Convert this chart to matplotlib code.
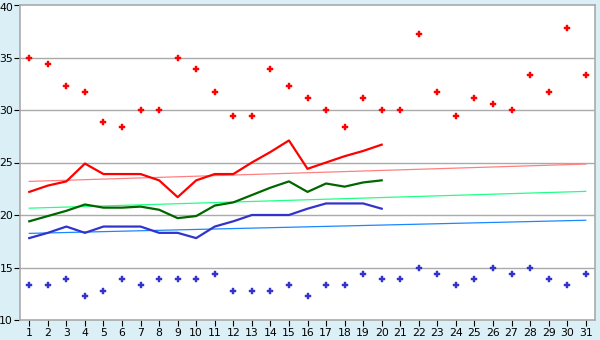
import numpy as np
import matplotlib
matplotlib.use("Agg")
import matplotlib.pyplot as plt
import matplotlib.transforms as mtransforms

days = list(range(1, 32))
max_temp = [35.0, 34.4, 32.3, 31.7, 28.9, 28.4, 30.0, 30.0, 35.0, 33.9,
            31.7, 29.4, 29.4, 33.9, 32.3, 31.1, 30.0, 28.4, 31.1, 30.0,
            30.0, 37.2, 31.7, 29.4, 31.1, 30.6, 30.0, 33.3, 31.7, 37.8, 33.3]
min_temp = [13.3, 13.3, 13.9, 12.3, 12.8, 13.9, 13.3, 13.9, 13.9, 13.9,
            14.4, 12.8, 12.8, 12.8, 13.3, 12.3, 13.3, 13.3, 14.4, 13.9,
            13.9, 15.0, 14.4, 13.3, 13.9, 15.0, 14.4, 15.0, 13.9, 13.3, 14.4]

line_days = list(range(1, 21))
red_line = [22.2, 22.8, 23.2, 24.9, 23.9, 23.9, 23.9, 23.3, 21.7, 23.3,
            23.9, 23.9, 25.0, 26.0, 27.1, 24.4, 25.0, 25.6, 26.1, 26.7]
green_line = [19.4, 19.9, 20.4, 21.0, 20.7, 20.7, 20.8, 20.5, 19.7, 19.9,
              20.9, 21.2, 21.9, 22.6, 23.2, 22.2, 23.0, 22.7, 23.1, 23.3]
blue_line = [17.8, 18.3, 18.9, 18.3, 18.9, 18.9, 18.9, 18.3, 18.3, 17.8,
             18.9, 19.4, 20.0, 20.0, 20.0, 20.6, 21.1, 21.1, 21.1, 20.6]

trend_days = [1, 31]
red_trend = [23.2, 24.85]
green_trend = [20.65, 22.25]
blue_trend = [18.25, 19.5]

fig = plt.figure(figsize=(6, 3.4), dpi=100, facecolor="#daf0f6")
ax = fig.add_axes([20/600, 20/340, 575/600, 315/340])
ax.set_facecolor("white")

for y in [15, 20, 25, 30, 35]:
    ax.axhline(y, color="#aaaaaa", lw=1, zorder=0)

ax.plot(trend_days, red_trend, color="#ff8080", lw=0.9, zorder=1)
ax.plot(trend_days, green_trend, color="#22ff88", lw=0.9, zorder=1)
ax.plot(trend_days, blue_trend, color="#1a88ff", lw=0.9, zorder=1)

ax.plot(line_days, red_line, color="#ff0000", lw=1.6, zorder=2)
ax.plot(line_days, green_line, color="#006600", lw=1.6, zorder=2)
ax.plot(line_days, blue_line, color="#3333cc", lw=1.6, zorder=2)

ax.plot(days, max_temp, ls="none", marker="P", ms=5, mew=0.3, color="#ff0000", zorder=3)
ax.plot(days, min_temp, ls="none", marker="P", ms=5, mew=0.3, color="#3333cc", zorder=3)

ax.set_xlim(0.5, 31.5)
ax.set_ylim(10, 40)
ax.set_xticks(days)
ax.set_yticks([10, 15, 20, 25, 30, 35, 40])
for s in ax.spines.values():
    s.set_color("#aaaaaa")
    s.set_linewidth(1.2)
ax.tick_params(axis="both", labelsize=7.8, colors="black", length=4, width=0.8, pad=2)
ax.tick_params(axis="y", pad=1)

# nudge the top "40" label down a touch so it isn't cut off
top_lbl = ax.get_yticklabels()[-1]
top_lbl.set_transform(top_lbl.get_transform() +
                      mtransforms.ScaledTranslation(0, -2/100, fig.dpi_scale_trans))

fig.savefig("out.png", dpi=100, facecolor=fig.get_facecolor())
